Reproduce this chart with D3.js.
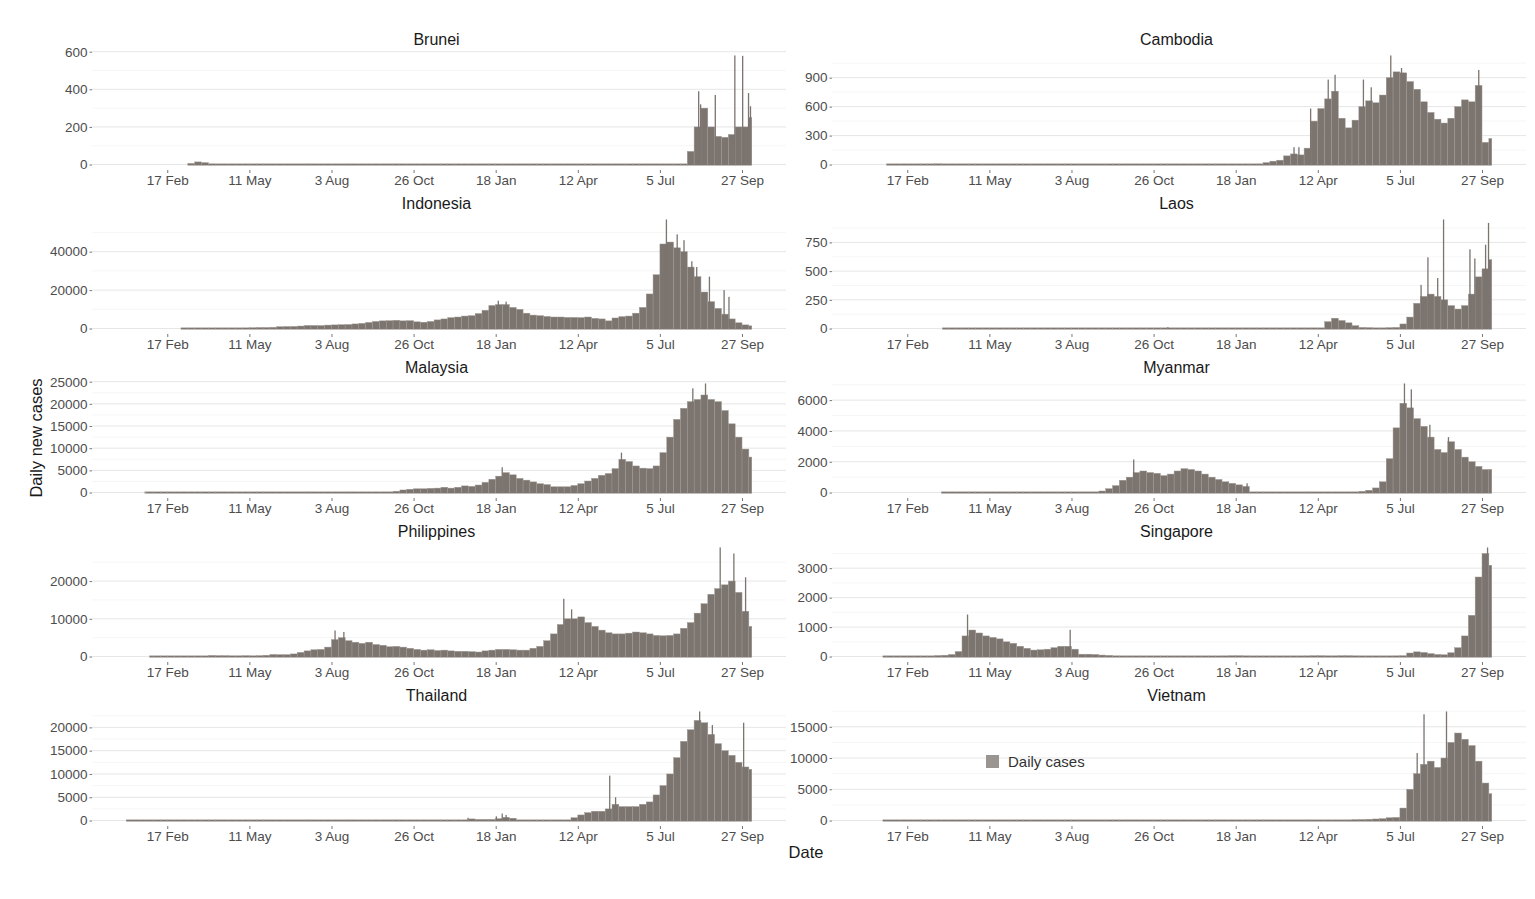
<!DOCTYPE html>
<html><head><meta charset="utf-8">
<script src="https://cdn.jsdelivr.net/npm/d3@7"></script>
<style>
body{margin:0;background:#fff;}
svg{display:block;}
text{font-family:"Liberation Sans", Arial, Helvetica, sans-serif;}
</style></head><body>
<svg id="chart" width="1535" height="899"></svg>
<script>
// ---------------- DATA ----------------
const countries = ["Brunei","Cambodia","Indonesia","Laos","Malaysia","Myanmar","Philippines","Singapore","Thailand","Vietnam"];
const firstCase = ["2020-03-09","2020-01-27","2020-03-02","2020-03-24","2020-01-25","2020-03-23","2020-01-30","2020-01-23","2020-01-05","2020-01-23"];
const weekOrigin = "2020-01-06";   // each weekly value = average daily cases of that Monday-starting week
const dataEnd = "2021-10-07";
const xTickDates = ["2020-02-17","2020-05-11","2020-08-03","2020-10-26","2021-01-18","2021-04-12","2021-07-05","2021-09-27"];
const yTickValues = [
  [0,200,400,600],[0,300,600,900],[0,20000,40000],[0,250,500,750],[0,5000,10000,15000,20000,25000],
  [0,2000,4000,6000],[0,10000,20000],[0,1000,2000,3000],[0,5000,10000,15000,20000],[0,5000,10000,15000]
];

const bruneiWeekly = [0, 0,0,0,0,0,0,0,0, 6,14,10,4,2,1,
  0,0,0,0,0,0,0,0,0,0, 0,0,0,0,0,0,0,0,0,0, 0,0,0,0,0,0,0,0,0,0, 0,0,0,0,0,0,0,0,0,
  2,0.5, 1,0,0,1,0,0,1,1,1,1, 1,2,1,1,1,1,2,1,1,1, 2,2,1,1,1,2,
  70,200,300,200,150,145,160,200,200,250];
const cambodiaWeekly = [0, 0,0, 0.2,0.1,0,0,0,0,0.3, 8,5,3,
  0.5,0.5,0.5,0.5,0.5,0.5,0.5,0.5,0.5,0.5,0.5,0.5,0.5,0.5, 3,5,4,3,
  0.5,0.5,0.5,0.5,0.5,0.5,0.5,0.5,0.5,0.5,0.5,0.5,0.5,0.5,0.5, 2,3,2, 1,1,1, 2,2,3,1,1,1,
  20,35,45,90,110,100,170,450,580,680,760,480,380,460,600,660,640,720,900,960,950,860,780,650,540,470,430,480,600,670,650,820,230,270];
const indonesiaWeekly = [0, 0,0,0,0,0,0,0,
  1,10,50,100,130,300,350,330,350,380, 450,550,550,650,950,1050,1100,1300,1600,1600,
  1550,1800,1900,2000,2100,2400,2700,3200,3700,4000, 4100,4300,4000,4100,3500,3300,3700,4500,5000,5700, 6000,6500,
  6700,7800,9500,12000,12500,12500,11000,10000,8000,7000,6700,6300,6000,6000,5800,5800,5700,6000,5300,5000,4000,5500,6200,6500,
  8000,11000,18000,28000,44000,45000,42000,40000,32000,27000,19000,14000,10500,7500,5000,3000,1900,1400];
const laosWeekly = [0, 0,0,0,0,0,0,0,0,0,0, 1,2,1,0.5,0.3,
  0,0,0,0,0,0,0,0,0,0, 0,0,0,0,0,0,0,0,0,0, 0,0,0,0,0,0,0,0,0, 2,
  0,0,0,0,0,0,0,0,0,0, 0,0,0,0,0,0,0,0,0,0,0,
  60,90,70,50,25,10,8,5,5,8,10,40,100,220,280,300,280,250,200,170,200,300,450,520,600];
const malaysiaWeekly = [0, 0,
  1,1,1,0.5,0.5,1,5,40,130,160, 150,130,80,50,40,40,25,40,30,40, 20,10,5,5,8,10,15,10,10,15,
  10,10,15,50,30,60,150,300,580,750, 850,850,950,1000,1200,1000,1200,1500,1400,1700,
  2300,3000,3700,4500,4000,3200,2800,2400,2000,1800, 1300,1300,1300,1600,2000,2600,3200,3900,4300,5400,
  7500,7000,6000,5500,5400,6000,9000,12500,16500,19000, 20500,21000,22000,21000,20500,18500,15500,12500,9800,8000];
const myanmarWeekly = [0, 0,0,0,0,0,0,0,0,0,0, 1,3,3,5,4,2, 2,2,2,2,2,2,2,2,2,2,2,2,2,2,2,
  5,30,100,250,450,800,1000,1300,1400,1300, 1250,1100,1200,1400,1550,1500,1400,1200,1000,850, 700,600,500,400,30,10,
  15,15,10,10,10,10,10,10,10,15,20,25,30,
  40,80,150,300,700,2200,4200,5800,5500,4800,4300,3600,2800,2600,3300,2800,2300,2000,1700,1500,1500];
const philippinesWeekly = [0, 0,0, 0.3,0.1,0.1,0.1,0.1,0.5,5,
  30,80,300,250,250,200,200,250,200,250, 350,550,500,500,700,1100,1500,1800,1900,2500,
  4500,5000,4200,3800,3500,3800,3200,3000,2600,2700, 2500,2200,1900,1700,1800,1600,1700,1500,1400,1400,
  1300,1200,1500,1700,1900,1900,1800,1700,1700,2200, 2700,4200,6000,8500,10000,10000,10500,9000,8000,7000,
  6300,6000,6000,6200,6500,6300,6000,5600,5500,5600, 6000,7500,9000,11500,14000,16500,
  18000,19000,20000,17000,12000,8000];
const singaporeWeekly = [0, 0,
  1,1,3,5,5,3,8,15,35,45, 70,170,700,900,800,700,650,600,500,450, 350,280,220,230,250,300,350,350,250,80, 80,70,50,40,25,20,15,
  10,10,8,8,8,8,8,10,10,10,12,15,20,25,30,
  30,25,20,15,12,12,15,15,15,18,25,30,30,25,25,30,30,25,20,20,18,18,20,25,
  30,120,160,140,100,70,60,130,300,700,1400,2700,3500,3100];
const thailandWeekly = [0.5,
  1,1,1,2,1,1,2,3,20,70,120,110,50,30,15,8,4,
  3,3,3,3,3,3,3,3,3,3,3,3,3,3,3,3,3,3,3,3,3,3,3,3,3,5,5,5,5,5,10,
  30,350,250,250,250,400,700,500,120,120,100,60,60,80,60,100,
  600,1200,1700,2000,2000,2500,3500,3000,3000,3000,3500,4000,5500,7500,10000,13500,17000,19500,21500,21000,18500,16500,15000,14000,12500,11500,11000];
const vietnamWeekly = [0, 0,
  0.5,0.5,1,1,0.5,0.5,1,5,10,15,10,3,1, 1,1,1,1,1,1,1,1,1,1,1,1,1, 3,5,10,5,3,
  2,2,2,2,2,2,2,2,2,2,2,2,2,2,2,2,2,2,2, 2,3,8,40,40,20,10,10,5,5, 5,5,5,5,5,10,
  30,60,100,150,170,200,250,300,450,500,2000,5000,7500,9000,9500,8500,10000,12500,14000,13000,12000,9500,6000,4300];

// single-day peaks standing out of the weekly mass
const bruneiSpikes = [["2021-08-13",390],["2021-08-15",320],["2021-08-30",370],["2021-09-19",580],["2021-09-27",578],["2021-10-03",380],["2021-10-05",310]];
const cambodiaSpikes = [["2021-03-18",180],["2021-03-23",180],["2021-04-04",580],["2021-04-22",880],["2021-04-29",930],["2021-05-28",880],["2021-06-05",800],["2021-06-25",1130],["2021-07-06",1000],["2021-09-23",980]];
const indonesiaSpikes = [["2021-01-20",14500],["2021-01-28",14000],["2021-07-11",56757],["2021-07-22",49000],["2021-07-29",46000],["2021-08-06",35000],["2021-08-11",32000],["2021-08-24",27000],["2021-09-08",20000],["2021-09-13",16500]];
const laosSpikes = [["2020-11-09",12],["2021-07-26",380],["2021-08-02",620],["2021-08-12",440],["2021-08-18",950],["2021-09-14",690],["2021-09-19",610],["2021-09-30",730],["2021-10-03",920]];
const malaysiaSpikes = [["2021-01-24",5700],["2021-05-26",9000],["2021-08-07",23500],["2021-08-20",24599]];
const myanmarSpikes = [["2020-10-05",2150],["2021-01-29",600],["2021-07-09",7083],["2021-07-16",6700],["2021-08-04",4400],["2021-08-23",3600]];
const philippinesSpikes = [["2020-08-06",6900],["2020-08-15",6500],["2021-03-28",15300],["2021-04-05",12500],["2021-09-04",28900],["2021-09-18",27300],["2021-09-30",21000]];
const singaporeSpikes = [["2020-04-18",1426],["2020-08-01",908],["2021-10-02",3703]];
const thailandSpikes = [["2020-12-20",600],["2021-01-18",900],["2021-01-24",1500],["2021-01-28",1200],["2021-05-14",9635],["2021-05-20",5000],["2021-08-14",23418],["2021-08-27",20500],["2021-09-28",21000]];
const vietnamSpikes = [["2021-07-22",10800],["2021-07-29",17000],["2021-08-21",17450],["2021-09-15",11500]];

const weeklySeries = [bruneiWeekly,cambodiaWeekly,indonesiaWeekly,laosWeekly,malaysiaWeekly,myanmarWeekly,philippinesWeekly,singaporeWeekly,thailandWeekly,vietnamWeekly];
const spikeSeries = [bruneiSpikes,cambodiaSpikes,indonesiaSpikes,laosSpikes,malaysiaSpikes,myanmarSpikes,philippinesSpikes,singaporeSpikes,thailandSpikes,vietnamSpikes];

// ---------------- LAYOUT ----------------
const parse = d3.utcParse("%Y-%m-%d");
const svg = d3.select("#chart");
const colX = [92, 832], panelW = 694, panelH = 120, rowY0 = 50, rowStep = 164;
const xDomain = [parse("2019-12-02"), parse("2021-11-11")];
const barFill = "#7b746f", barEdge = "#9f9994";
const fmtDate = d3.utcFormat("%-d %b");

countries.forEach((name, i) => {
  const col = i % 2, row = Math.floor(i / 2);
  const left = colX[col], top = rowY0 + row * rowStep, bottom = top + panelH;
  const x = d3.scaleUtc().domain(xDomain).range([left, left + panelW]);
  const weekly = weeklySeries[i], spikes = spikeSeries[i];
  const M = Math.max(d3.max(weekly), d3.max(spikes, d => d[1]));
  const y = d3.scaleLinear().domain([-0.05 * M, 1.05 * M]).range([bottom, top]);
  const g = svg.append("g");

  // gridlines
  const ticks = yTickValues[i];
  const step = ticks[1] - ticks[0];
  const minors = [ticks[0] - step / 2, ...ticks.map(t => t + step / 2)].filter(v => v > y.domain()[0] && v < y.domain()[1]);
  g.selectAll("line.minor").data(minors).join("line")
    .attr("x1", left).attr("x2", left + panelW).attr("y1", d => y(d)).attr("y2", d => y(d))
    .attr("stroke", "#f2f2f2").attr("stroke-width", 0.7);
  g.selectAll("line.major").data(ticks).join("line")
    .attr("x1", left).attr("x2", left + panelW).attr("y1", d => y(d)).attr("y2", d => y(d))
    .attr("stroke", "#e6e6e6").attr("stroke-width", 1);

  // weekly bars
  const origin = parse(weekOrigin), end = parse(dataEnd), first = parse(firstCase[i]);
  const bars = weekly.map((v, k) => {
    const s0 = d3.utcDay.offset(origin, 7 * k);
    const s = s0 < first ? first : s0;
    let e = d3.utcDay.offset(s0, 7); if (e > end) e = end;
    return { s, e, v };
  }).filter(b => b.e > b.s);
  const y0 = y(0);
  g.selectAll("rect.w").data(bars).join("rect")
    .attr("x", b => x(b.s)).attr("width", b => x(b.e) - x(b.s))
    .attr("y", b => Math.min(y(b.v), y0 - 0.7))
    .attr("height", b => y0 + 0.7 - Math.min(y(b.v), y0 - 0.7))
    .attr("fill", barFill).attr("stroke", barEdge).attr("stroke-width", 0.45);

  // daily peaks
  g.selectAll("rect.s").data(spikes).join("rect")
    .attr("x", d => x(parse(d[0]))).attr("width", d => Math.max(x(d3.utcDay.offset(parse(d[0]), 1)) - x(parse(d[0])), 1.3))
    .attr("y", d => y(d[1])).attr("height", d => y0 - y(d[1]))
    .attr("fill", barFill);

  // axes
  const ya = g.append("g").attr("transform", `translate(${left},0)`)
    .call(d3.axisLeft(y).tickValues(ticks).tickSize(2.5).tickPadding(2).tickFormat(d3.format("d")));
  ya.select(".domain").remove();
  ya.selectAll("line").attr("stroke", "#777");
  ya.selectAll("text").attr("fill", "#4d4d4d").style("font-size", "13.5px");

  const xa = g.append("g").attr("transform", `translate(0,${bottom})`)
    .call(d3.axisBottom(x).tickValues(xTickDates.map(parse)).tickSize(3).tickPadding(2).tickFormat(fmtDate));
  xa.select(".domain").remove();
  xa.selectAll("line").attr("stroke", "#777");
  xa.selectAll("text").attr("fill", "#4d4d4d").style("font-size", "13.5px");

  // title
  g.append("text").attr("x", left + panelW * 0.5 - 2.5).attr("y", top - 5)
    .attr("text-anchor", "middle").attr("fill", "#1a1a1a").style("font-size", "16px").text(name);
});

// axis titles
svg.append("text").attr("transform", "translate(42,438) rotate(-90)").attr("text-anchor", "middle")
  .attr("fill", "#1a1a1a").style("font-size", "16.5px").text("Daily new cases");
svg.append("text").attr("x", 806).attr("y", 858).attr("text-anchor", "middle")
  .attr("fill", "#1a1a1a").style("font-size", "16.5px").text("Date");

// legend
svg.append("rect").attr("x", 986).attr("y", 755).attr("width", 13).attr("height", 13).attr("fill", "#9a9590");
svg.append("text").attr("x", 1008).attr("y", 767).attr("fill", "#333").style("font-size", "15px").text("Daily cases");
</script>
</body></html>
